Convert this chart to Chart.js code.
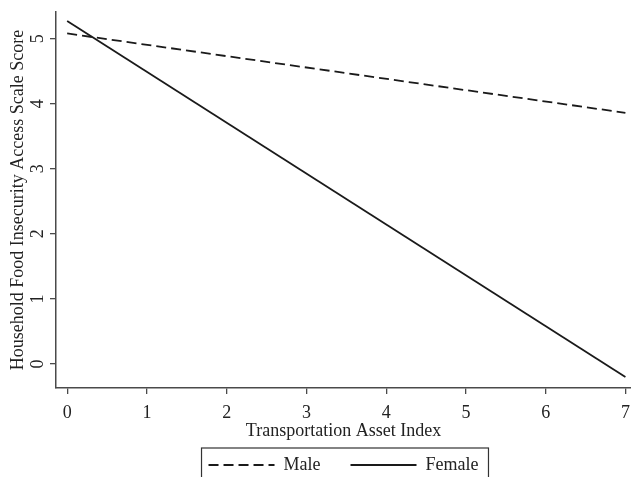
<!DOCTYPE html>
<html>
<head>
<meta charset="utf-8">
<script src="https://cdn.jsdelivr.net/npm/chart.js@4/dist/chart.umd.min.js"></script>
<style>
  html, body { margin: 0; padding: 0; background: #fff; overflow: hidden; }
  #wrap { width: 631px; height: 484px; }
</style>
</head>
<body>
<div id="wrap"><canvas id="c" width="631" height="484"></canvas></div>
<script>
// ---- data ----
const xValues = [0, 7];
const maleValues = [5.08, 3.86];
const femaleValues = [5.27, -0.2];
const xTickValues = [0, 1, 2, 3, 4, 5, 6, 7];
const yTickValues = [0, 1, 2, 3, 4, 5];
const seriesNames = ['Male', 'Female'];
const xTitle = 'Transportation Asset Index';
const yTitle = 'Household Food Insecurity Access Scale Score';

const FONT = "'Liberation Serif', 'Times New Roman', serif";
const AXIS_COLOR = '#4a4a4a';
const LINE_COLOR = '#1a1a1a';

const rotatedYTicks = {
  id: 'rotatedYTicks',
  afterDraw(chart) {
    const ctx = chart.ctx;
    const y = chart.scales.y;
    ctx.save();
    ctx.fillStyle = '#222';
    ctx.font = '18px ' + FONT;
    ctx.textAlign = 'center';
    ctx.textBaseline = 'middle';
    yTickValues.forEach(v => {
      const py = y.getPixelForValue(v);
      ctx.save();
      ctx.translate(38, py);
      ctx.rotate(-Math.PI / 2);
      ctx.fillText(String(v), 0, 0);
      ctx.restore();
    });
    ctx.restore();
  }
};

const legendBorder = {
  id: 'legendBorder',
  afterDraw(chart) {
    const lg = chart.legend;
    if (!lg || !lg.legendHitBoxes || !lg.legendHitBoxes.length) return;
    const boxes = lg.legendHitBoxes;
    let minX = Infinity, maxX = -Infinity, cy = 0;
    boxes.forEach(b => {
      minX = Math.min(minX, b.left);
      maxX = Math.max(maxX, b.left + b.width);
      cy = b.top + b.height / 2;
    });
    const ctx = chart.ctx;
    ctx.save();
    ctx.strokeStyle = '#333';
    ctx.lineWidth = 1.2;
    ctx.strokeRect(minX - 7, cy - 17, (maxX - minX) + 17, 36);
    ctx.restore();
  }
};

new Chart(document.getElementById('c'), {
  type: 'line',
  data: {
    datasets: [
      {
        label: seriesNames[0],
        data: xValues.map((x, i) => ({ x: x, y: maleValues[i] })),
        borderColor: LINE_COLOR,
        backgroundColor: LINE_COLOR,
        borderWidth: 1.8,
        borderDash: [10, 5],
        pointRadius: 0,
        fill: false,
        tension: 0
      },
      {
        label: seriesNames[1],
        data: xValues.map((x, i) => ({ x: x, y: femaleValues[i] })),
        borderColor: LINE_COLOR,
        backgroundColor: LINE_COLOR,
        borderWidth: 1.8,
        pointRadius: 0,
        fill: false,
        tension: 0
      }
    ]
  },
  options: {
    responsive: false,
    animation: false,
    layout: { padding: { top: 12, left: 0, right: 0, bottom: 0 } },
    plugins: {
      tooltip: { enabled: false },
      legend: {
        display: true,
        position: 'bottom',
        fullSize: false,
        labels: {
          usePointStyle: true,
          pointStyle: 'line',
          pointStyleWidth: 66,
          padding: 30,
          color: '#222',
          font: { family: FONT, size: 18 },
          generateLabels(chart) {
            const items = Chart.defaults.plugins.legend.labels.generateLabels(chart);
            items.forEach(it => {
              const ds = chart.data.datasets[it.datasetIndex];
              it.lineDash = ds.borderDash || [];
              it.strokeStyle = ds.borderColor;
              it.lineWidth = ds.borderWidth;
            });
            return items;
          }
        }
      }
    },
    scales: {
      x: {
        type: 'linear',
        min: -0.14,
        max: 7.07,
        afterBuildTicks(scale) { scale.ticks = xTickValues.map(v => ({ value: v })); },
        afterFit(scale) { scale.height = 38; scale.paddingRight = 0; scale.paddingLeft = 0; },
        grid: { display: true, drawOnChartArea: false, drawTicks: true, tickLength: 6, color: AXIS_COLOR, lineWidth: 1.3 },
        border: { display: true, color: AXIS_COLOR, width: 1.5 },
        ticks: {
          color: '#222',
          font: { family: FONT, size: 18 },
          padding: 8,
          maxRotation: 0,
          callback: v => String(v)
        },
        title: {
          display: true,
          text: xTitle,
          color: '#222',
          font: { family: FONT, size: 18 },
          padding: { top: 0, bottom: -16 }
        }
      },
      y: {
        type: 'linear',
        min: -0.37,
        max: 5.41,
        afterBuildTicks(scale) { scale.ticks = yTickValues.map(v => ({ value: v })); },
        afterFit(scale) { scale.width = 56; },
        grid: { display: true, drawOnChartArea: false, drawTicks: true, tickLength: 6, color: AXIS_COLOR, lineWidth: 1.3 },
        border: { display: true, color: AXIS_COLOR, width: 1.5 },
        ticks: { display: false },
        title: {
          display: true,
          text: yTitle,
          color: '#222',
          font: { family: FONT, size: 18 },
          padding: { top: 7, bottom: 0 }
        }
      }
    }
  },
  plugins: [rotatedYTicks, legendBorder]
});
</script>
</body>
</html>
